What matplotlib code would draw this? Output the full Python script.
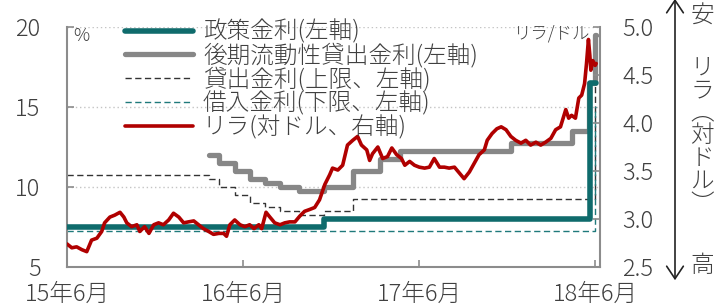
import matplotlib
matplotlib.use("Agg")
import matplotlib.pyplot as plt
from matplotlib.patches import FancyArrowPatch
import pandas as pd

plt.rcParams['font.family'] = ['Noto Sans CJK JP', 'DejaVu Sans']

# lira per dollar (right axis)
lira_dates = [
    '2015-06-01', '2015-06-11', '2015-06-21', '2015-07-02', '2015-07-12', '2015-07-22',
    '2015-08-02', '2015-08-12', '2015-08-18', '2015-08-29', '2015-09-08', '2015-09-19',
    '2015-09-27', '2015-10-03', '2015-10-13', '2015-10-24', '2015-10-30', '2015-11-09',
    '2015-11-18', '2015-11-28', '2015-12-08', '2015-12-18', '2015-12-29', '2016-01-08',
    '2016-01-19', '2016-01-29', '2016-02-08', '2016-02-19', '2016-02-29', '2016-03-10',
    '2016-03-21', '2016-03-31', '2016-04-11', '2016-04-21', '2016-04-27', '2016-05-04',
    '2016-05-14', '2016-05-25', '2016-06-04', '2016-06-14', '2016-06-23', '2016-07-03',
    '2016-07-09', '2016-07-18', '2016-07-26', '2016-08-05', '2016-08-16', '2016-08-26',
    '2016-09-05', '2016-09-16', '2016-09-26', '2016-10-06', '2016-10-17', '2016-10-27',
    '2016-11-06', '2016-11-17', '2016-11-27', '2016-12-03', '2016-12-14', '2016-12-24',
    '2017-01-03', '2017-01-14', '2017-01-24', '2017-02-01', '2017-02-12', '2017-02-18',
    '2017-02-24', '2017-03-07', '2017-03-17', '2017-03-27', '2017-04-05', '2017-04-15',
    '2017-04-25', '2017-05-02', '2017-05-12', '2017-05-22', '2017-06-01', '2017-06-12',
    '2017-06-22', '2017-07-02', '2017-07-13', '2017-07-23', '2017-08-02', '2017-08-13',
    '2017-08-23', '2017-09-02', '2017-09-13', '2017-09-23', '2017-10-03', '2017-10-14',
    '2017-10-20', '2017-10-30', '2017-11-09', '2017-11-18', '2017-11-28', '2017-12-08',
    '2017-12-18', '2017-12-29', '2018-01-08', '2018-01-18', '2018-01-29', '2018-02-08',
    '2018-02-18', '2018-03-01', '2018-03-11', '2018-03-21', '2018-04-01', '2018-04-07',
    '2018-04-13', '2018-04-21', '2018-04-28', '2018-05-04', '2018-05-10', '2018-05-14',
    '2018-05-18', '2018-05-21', '2018-05-23', '2018-05-27', '2018-06-01', '2018-06-03',
]
lira_values = [
    2.74, 2.70, 2.71, 2.68, 2.66, 2.78,
    2.80, 2.87, 2.96, 3.02, 3.04, 3.07,
    3.02, 2.96, 2.92, 2.94, 2.87, 2.92,
    2.85, 2.94, 2.96, 2.94, 2.99, 3.06,
    3.02, 2.96, 2.97, 2.98, 2.94, 2.90,
    2.87, 2.84, 2.85, 2.85, 2.82, 2.94,
    2.99, 2.94, 2.92, 2.94, 2.90, 2.94,
    2.90, 3.07, 3.02, 2.96, 2.94, 2.96,
    2.97, 2.97, 3.03, 3.08, 3.10, 3.12,
    3.20, 3.36, 3.46, 3.53, 3.51, 3.56,
    3.77, 3.82, 3.86, 3.77, 3.72, 3.61,
    3.68, 3.75, 3.63, 3.65, 3.74, 3.67,
    3.63, 3.56, 3.60, 3.56, 3.54, 3.53,
    3.54, 3.63, 3.54, 3.54, 3.53, 3.54,
    3.48, 3.42, 3.49, 3.58, 3.67, 3.72,
    3.82, 3.89, 3.94, 3.96, 3.93, 3.86,
    3.82, 3.79, 3.82, 3.77, 3.80, 3.77,
    3.80, 3.84, 3.93, 3.96, 4.14, 4.05,
    4.08, 4.05, 4.26, 4.29, 4.41, 4.62,
    4.87, 4.70, 4.55, 4.65, 4.60, 4.62,
]

# policy rate (one-week repo)
policy_dates = ['2015-06-01', '2016-11-15', '2018-05-22', '2018-06-03']
policy_values = [7.5, 8.0, 16.5, 16.5]

# late liquidity window lending rate
llw_dates = ['2016-03-21', '2016-04-11', '2016-05-14', '2016-06-14', '2016-07-16',
             '2016-08-16', '2016-09-24', '2016-11-15', '2017-01-14', '2017-03-11',
             '2017-04-22', '2017-12-08', '2018-04-13', '2018-05-20', '2018-05-31',
             '2018-06-02']
llw_values = [12.0, 11.5, 11.0, 10.5, 10.25, 10.0, 9.75, 10.0, 11.0, 11.75,
              12.25, 12.75, 13.5, 16.5, 19.5, 19.5]

# overnight lending rate (upper bound)
lending_dates = ['2015-06-01', '2016-03-21', '2016-04-11', '2016-05-14', '2016-06-14',
                 '2016-07-16', '2016-08-16', '2016-09-24', '2016-11-15', '2017-01-14',
                 '2018-05-31', '2018-06-03']
lending_values = [10.75, 10.5, 10.0, 9.5, 9.0, 8.75, 8.5, 8.25, 8.5, 9.25, 18.0, 18.0]

# overnight borrowing rate (lower bound)
borrow_dates = ['2015-06-01', '2018-05-31', '2018-06-03']
borrow_values = [7.25, 15.0, 15.0]

labels = ['政策金利(左軸)', '後期流動性貸出金利(左軸)', '貸出金利(上限、左軸)',
          '借入金利(下限、左軸)', 'リラ(対ドル、右軸)']
left_ticks = [5, 10, 15, 20]
right_ticks = [2.5, 3.0, 3.5, 4.0, 4.5, 5.0]
x_ticks = ['2015-06-01', '2016-06-01', '2017-06-01', '2018-06-01']
x_labels = ['15年6月', '16年6月', '17年6月', '18年6月']

TEAL = '#0f6b6c'
GRAY = '#878787'
RED = '#b00000'
TXT = '#404040'
SPINE = '#8c8c8c'
FS = 17

fig = plt.figure(figsize=(7.17, 3.06), dpi=100)
ax = fig.add_axes([67 / 717, 1 - 267 / 306, 533 / 717, 240 / 306])
ax2 = ax.twinx()

d = pd.to_datetime
h1, = ax.plot(d(policy_dates), policy_values, drawstyle='steps-post', color=TEAL,
              lw=4, solid_capstyle='round', zorder=4)
h2, = ax.plot(d(llw_dates), llw_values, drawstyle='steps-post', color=GRAY,
              lw=3.8, solid_capstyle='round', zorder=3)
h3, = ax.plot(d(lending_dates), lending_values, drawstyle='steps-post', color='#333333',
              lw=1.0, dashes=(4.5, 2.5), zorder=2)
h4, = ax.plot(d(borrow_dates), borrow_values, drawstyle='steps-post', color='#1f7a7b',
              lw=1.0, dashes=(4.5, 2.5), zorder=2)
h5, = ax2.plot(d(lira_dates), lira_values, color=RED, lw=2.6, solid_capstyle='round')

ax.set_xlim(d('2015-06-01'), d('2018-06-11'))
ax.set_ylim(5, 20)
ax2.set_ylim(2.5, 5.0)

ax.set_yticks(left_ticks)
ax.set_yticklabels([str(v) for v in left_ticks])
ax2.set_yticks(right_ticks)
ax2.set_yticklabels([f'{v:.1f}' for v in right_ticks])
ax.set_xticks(d(x_ticks))
ax.set_xticklabels(x_labels)

ax.yaxis.grid(True, ls=(0, (1, 2)), color='#c4c4c4', lw=1)
ax.set_axisbelow(True)

for a in (ax, ax2):
    for s in a.spines.values():
        s.set_visible(False)
ax.spines['left'].set_visible(True)
ax.spines['bottom'].set_visible(True)
ax2.spines['right'].set_visible(True)
for s in (ax.spines['left'], ax.spines['bottom'], ax2.spines['right']):
    s.set_color(SPINE)
    s.set_linewidth(1.5)

ax.tick_params(axis='y', direction='in', length=5, width=1.2, color=SPINE,
               labelsize=FS, labelcolor=TXT, pad=19)
ax.tick_params(axis='x', direction='in', length=5, width=1.2, color=SPINE,
               labelsize=FS, labelcolor=TXT, pad=11)
ax2.tick_params(axis='y', direction='in', length=5, width=1.2, color=SPINE,
                labelsize=FS, labelcolor=TXT, pad=16)
for t in ax.get_yticklabels() + ax2.get_yticklabels() + ax.get_xticklabels():
    t.set_fontweight('light')

ax.text(6 / 533, 1.0, '%', transform=ax.transAxes, fontsize=13, color=TXT,
        ha='left', va='top', fontweight='light')
ax2.text(523 / 533, 1 - 6 / 240, 'リラ/ドル', transform=ax.transAxes, fontsize=12.5,
         color=TXT, ha='right', va='center', zorder=1, fontweight='light')

leg = ax2.legend([h1, h2, h3, h4, h5], labels, loc='upper left',
                 bbox_to_anchor=(58 / 533, 1.03), frameon=False,
                 prop={'size': FS, 'weight': 'light'},
                 handlelength=2.9, handletextpad=0.4, labelspacing=-0.05,
                 borderpad=0, borderaxespad=0)
for t in leg.get_texts():
    t.set_color(TXT)

# double arrow and labels on the right
arrow = FancyArrowPatch((675 / 717, 1 - 283 / 306), (675 / 717, 1 + 4 / 306),
                        transform=fig.transFigure,
                        arrowstyle='<->,head_length=0.45,head_width=0.3',
                        mutation_scale=20, color='#222222', lw=1.2)
fig.patches.append(arrow)
fig.text(702 / 717, 1 - 16 / 306, '安', fontsize=FS, color=TXT, ha='center',
         va='center', fontweight='light')
fig.text(702 / 717, 1 - 266 / 306, '高', fontsize=FS, color=TXT, ha='center',
         va='center', fontweight='light')
fig.text(702 / 717, 1 - 136 / 306, '\n'.join('リラ︵対ドル︶'), fontsize=FS, color=TXT,
         ha='center', va='center', linespacing=0.88, fontweight='light')

fig.savefig('out.png', dpi=100)
